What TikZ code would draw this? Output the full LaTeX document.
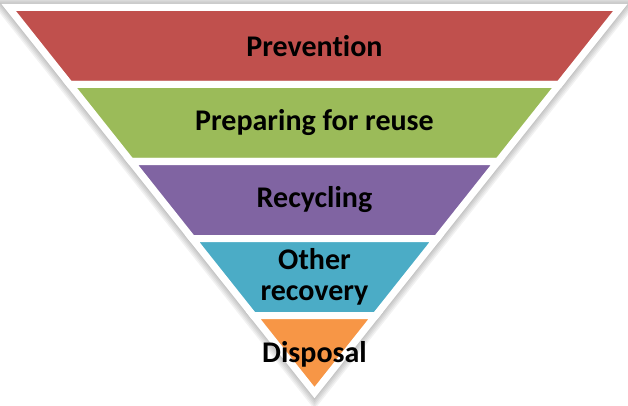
\documentclass[tikz,border=0pt]{standalone}
\usepackage{fontspec}
\setmainfont{Carlito}[Ligatures=NoCommon]
\definecolor{cRed}{HTML}{C0504D}
\definecolor{cGreen}{HTML}{9BBB59}
\definecolor{cPurple}{HTML}{8064A2}
\definecolor{cCyan}{HTML}{4BACC6}
\definecolor{cOrange}{HTML}{F79646}
\begin{document}
\begin{tikzpicture}[x=1pt,y=-1pt,
  band/.style={draw=white,line width=7pt,line join=miter,fill=#1},
  lbl/.style={font=\fontsize{30}{31}\selectfont\bfseries,text=black,align=center,inner sep=0pt},
  shd/.style={draw=black,fill=black,opacity=0.05,line join=miter}]
\useasboundingbox (0,0) rectangle (628,406);
% key points
\coordinate (TL) at (8.7,7.5);
\coordinate (TR) at (620.3,7.5);
\coordinate (L1) at (69.84,84.5);
\coordinate (R1) at (559.16,84.5);
\coordinate (L2) at (130.99,161.5);
\coordinate (R2) at (498.01,161.5);
\coordinate (L3) at (192.13,238.5);
\coordinate (R3) at (436.87,238.5);
\coordinate (L4) at (253.28,315.5);
\coordinate (R4) at (375.72,315.5);
\coordinate (AP) at (314.5,392.6);
% shadow
\foreach \w in {2,5,8,11,14}{
  \draw[shd,line width=7pt+\w pt,shift={(3,3.5)}] (TL) -- (TR) -- (AP) -- cycle;
}
% bands
\draw[band=cRed] (TL) -- (TR) -- (R1) -- (L1) -- cycle;
\draw[band=cGreen] (L1) -- (R1) -- (R2) -- (L2) -- cycle;
\draw[band=cPurple] (L2) -- (R2) -- (R3) -- (L3) -- cycle;
\draw[band=cCyan] (L3) -- (R3) -- (R4) -- (L4) -- cycle;
\draw[band=cOrange] (L4) -- (R4) -- (AP) -- cycle;
% labels
\node[lbl] (t1) at (314.5,46) {Prevention};
\node[lbl] (t2) at (314.5,123) {Preparing for reuse};
\node[lbl] (t3) at (314.5,200) {Recycling};
\node[lbl] (t4) at (314.5,277) {Other\\recovery};
\node[lbl] (t5) at (314.5,354) {Disposal};
\end{tikzpicture}
\end{document}
